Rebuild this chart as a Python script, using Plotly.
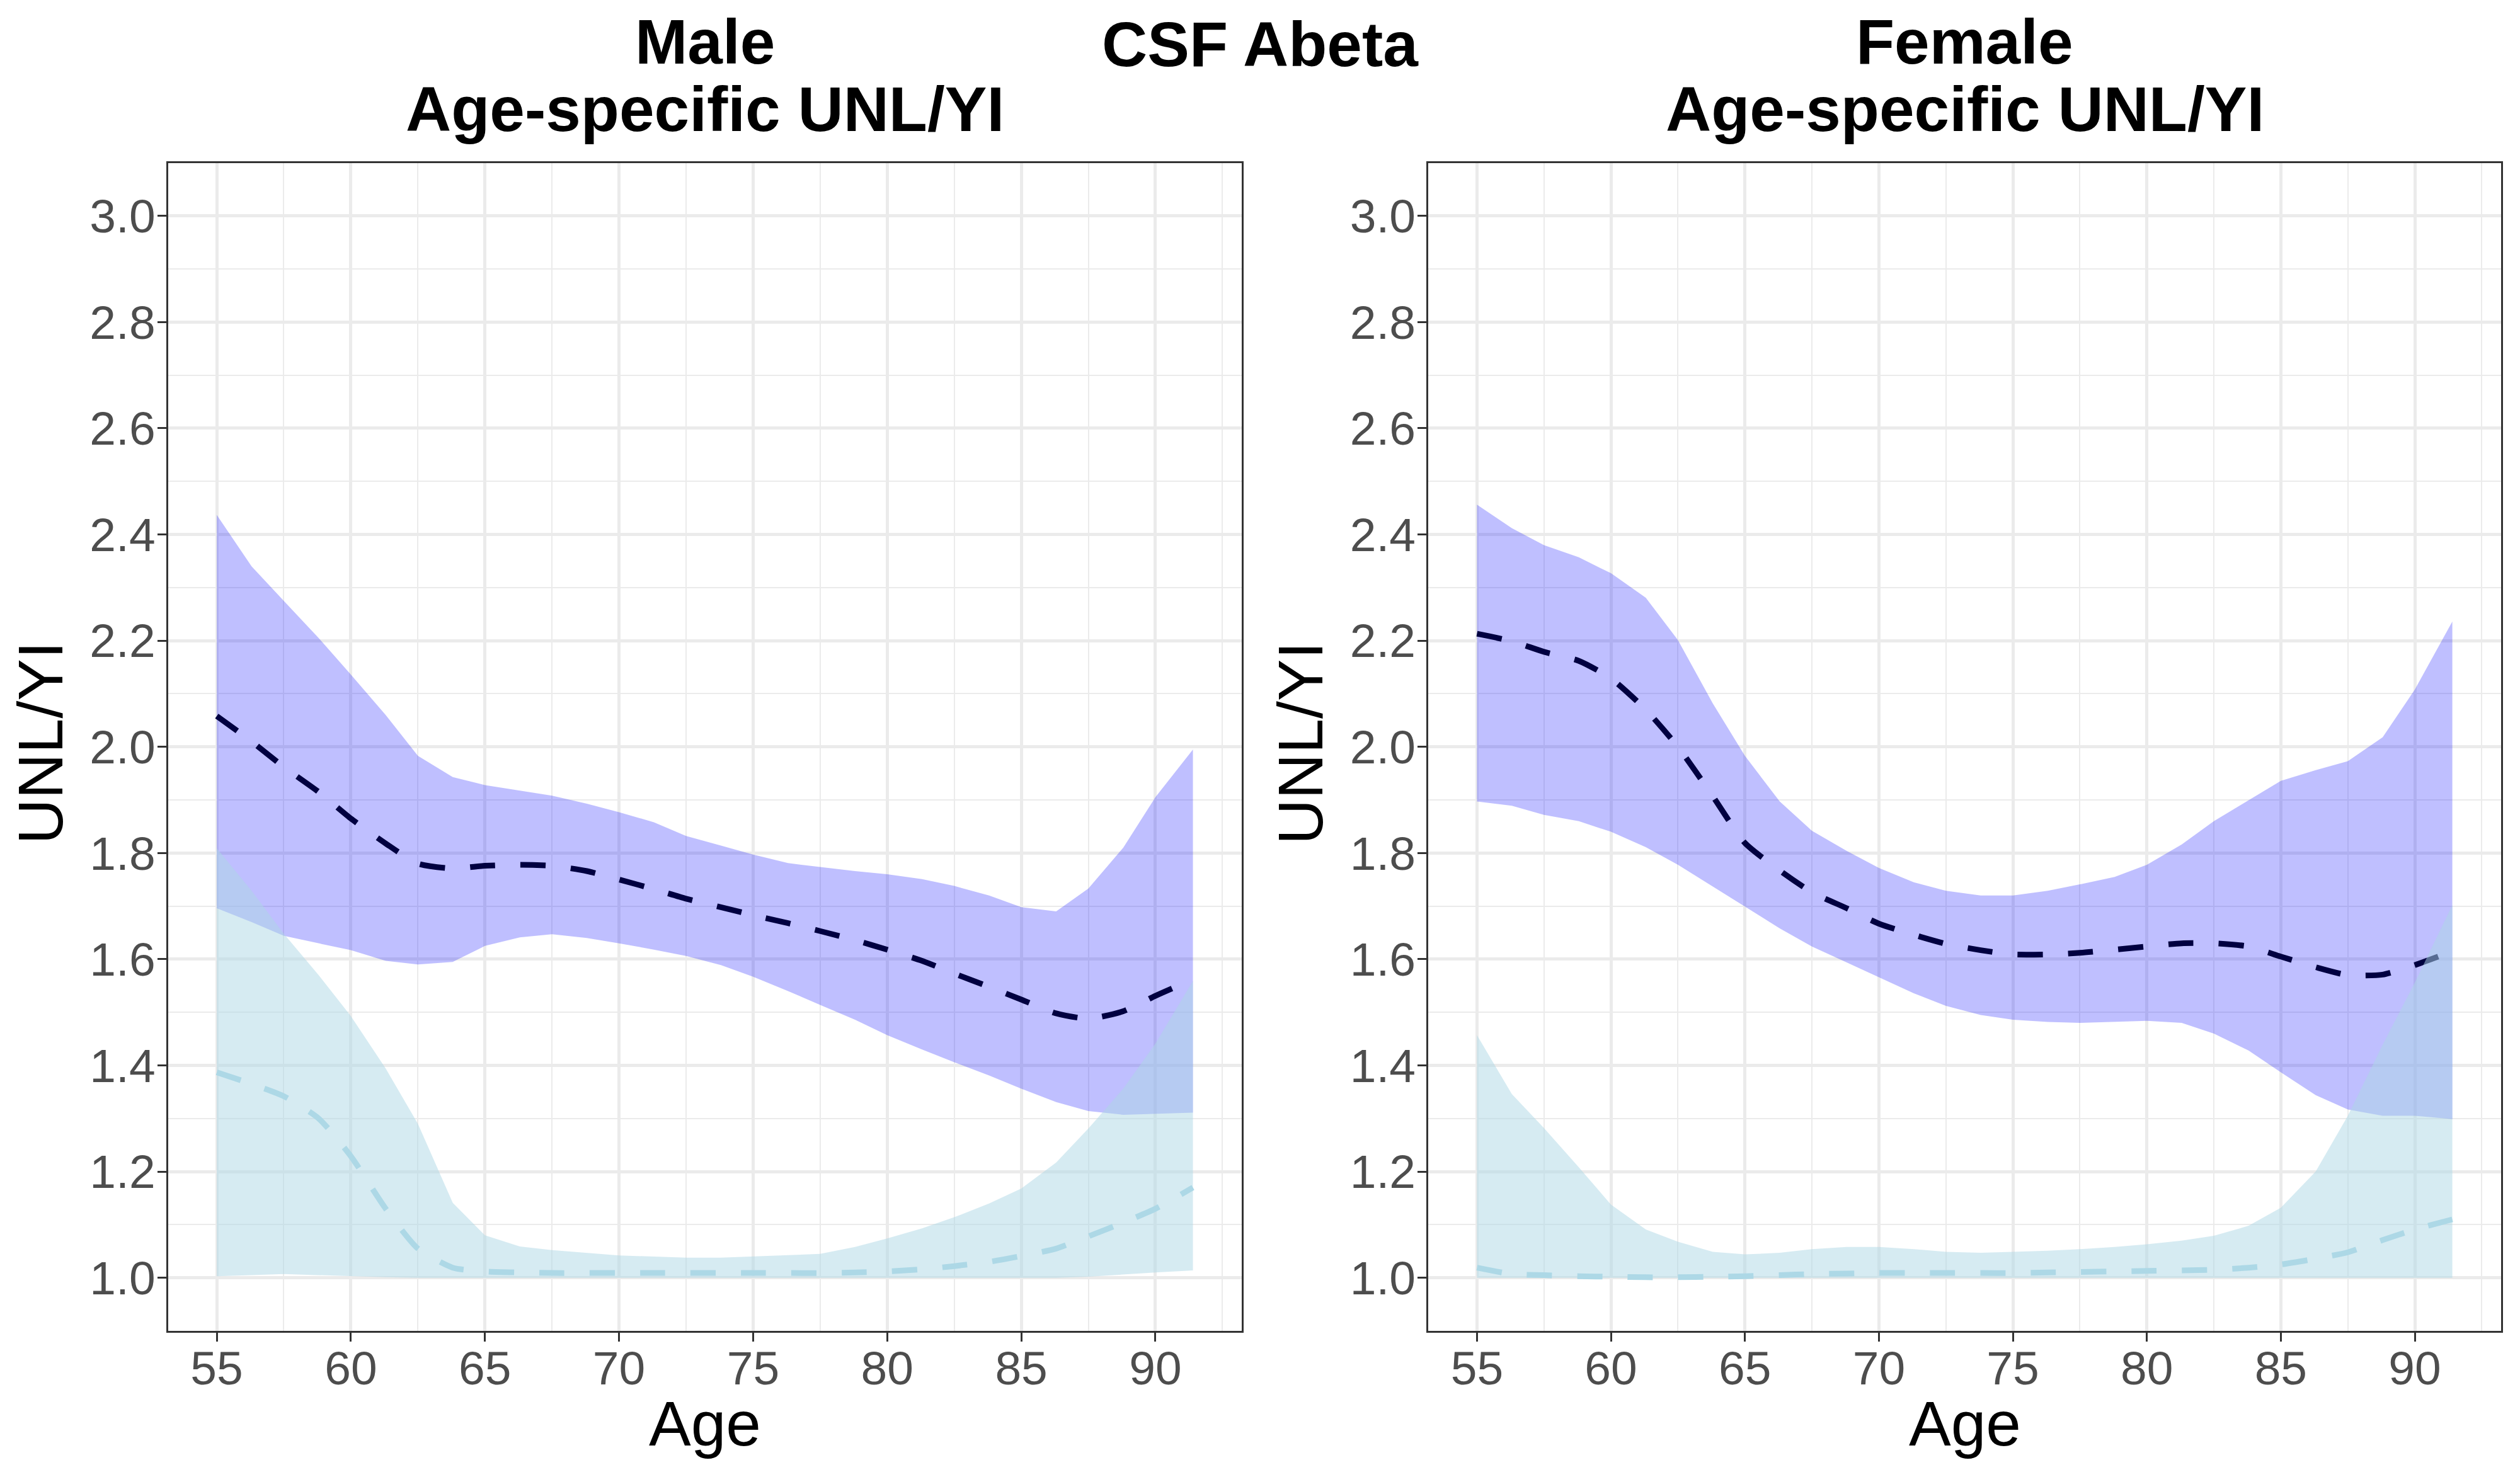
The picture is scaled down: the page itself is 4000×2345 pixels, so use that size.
import plotly.graph_objects as go

ages = [55, 56.3, 57.5, 58.8, 60, 61.3, 62.5, 63.8, 65, 66.3, 67.5, 68.8, 70, 71.3, 72.5,
        73.8, 75, 76.3, 77.5, 78.8, 80, 81.3, 82.5, 83.8, 85, 86.3, 87.5, 88.8, 90, 91.4]

# Male
male_blue_upper = [2.437, 2.34, 2.275, 2.205, 2.136, 2.06, 1.983, 1.943, 1.928, 1.918, 1.908, 1.893,
                   1.877, 1.858, 1.832, 1.814, 1.797, 1.781, 1.774, 1.766, 1.76, 1.751, 1.738, 1.72,
                   1.698, 1.69, 1.733, 1.81, 1.905, 1.995]
male_blue_lower = [1.696, 1.67, 1.644, 1.63, 1.617, 1.597, 1.59, 1.595, 1.625, 1.641, 1.647, 1.64,
                   1.63, 1.618, 1.606, 1.589, 1.567, 1.54, 1.514, 1.486, 1.457, 1.43, 1.406, 1.381,
                   1.356, 1.331, 1.314, 1.307, 1.309, 1.311]
male_dark_mean = [2.058, 2.01, 1.962, 1.915, 1.865, 1.818, 1.78, 1.771, 1.776, 1.778, 1.776, 1.766,
                  1.75, 1.732, 1.714, 1.698, 1.683, 1.668, 1.653, 1.636, 1.618, 1.597, 1.573, 1.548,
                  1.524, 1.498, 1.488, 1.502, 1.531, 1.562]
male_light_upper = [1.809, 1.729, 1.648, 1.57, 1.493, 1.394, 1.29, 1.141, 1.08, 1.059, 1.052, 1.047,
                    1.042, 1.04, 1.038, 1.038, 1.04, 1.043, 1.045, 1.058, 1.074, 1.093, 1.114, 1.14,
                    1.168, 1.217, 1.281, 1.356, 1.441, 1.559]
male_light_lower = [1.003, 1.005, 1.007, 1.005, 1.003, 1.001, 1.0, 1.0, 1.0, 1.0, 1.0, 1.0,
                    1.0, 1.0, 1.0, 1.0, 1.0, 1.0, 1.0, 1.0, 1.0, 1.0, 1.0, 1.0,
                    1.0, 1.0, 1.002, 1.006, 1.01, 1.014]
male_light_mean = [1.387, 1.365, 1.342, 1.30, 1.229, 1.13, 1.055, 1.019, 1.012, 1.01, 1.009, 1.009,
                   1.009, 1.009, 1.009, 1.009, 1.009, 1.009, 1.009, 1.01, 1.012, 1.016, 1.022, 1.03,
                   1.041, 1.055, 1.078, 1.104, 1.13, 1.17]

# Female
female_blue_upper = [2.456, 2.412, 2.38, 2.357, 2.327, 2.281, 2.201, 2.082, 1.983, 1.897, 1.842, 1.804,
                     1.772, 1.745, 1.729, 1.72, 1.72, 1.729, 1.741, 1.755, 1.778, 1.816, 1.86, 1.90,
                     1.936, 1.956, 1.973, 2.018, 2.108, 2.236]
female_blue_lower = [1.897, 1.889, 1.872, 1.86, 1.84, 1.811, 1.778, 1.737, 1.699, 1.658, 1.624, 1.594,
                     1.566, 1.536, 1.512, 1.495, 1.486, 1.482, 1.48, 1.482, 1.484, 1.48, 1.46, 1.428,
                     1.387, 1.344, 1.317, 1.305, 1.305, 1.299]
female_dark_mean = [2.213, 2.199, 2.179, 2.162, 2.129, 2.07, 2.0, 1.907, 1.819, 1.767, 1.726, 1.696,
                    1.667, 1.646, 1.629, 1.617, 1.609, 1.609, 1.612, 1.618, 1.624, 1.63, 1.63, 1.624,
                    1.605, 1.585, 1.57, 1.571, 1.589, 1.615]
female_light_upper = [1.457, 1.346, 1.282, 1.208, 1.138, 1.091, 1.068, 1.049, 1.044, 1.047, 1.054, 1.058,
                      1.058, 1.054, 1.049, 1.047, 1.049, 1.051, 1.054, 1.058, 1.063, 1.07, 1.079, 1.098,
                      1.132, 1.20, 1.305, 1.439, 1.556, 1.702]
female_light_lower = [1.0] * 30
female_light_mean = [1.019, 1.007, 1.005, 1.003, 1.002, 1.001, 1.001, 1.002, 1.003, 1.005, 1.007, 1.008,
                     1.009, 1.009, 1.009, 1.009, 1.009, 1.01, 1.011, 1.012, 1.013, 1.014, 1.015, 1.019,
                     1.025, 1.036, 1.048, 1.071, 1.091, 1.11]

x_tickvals = [55, 60, 65, 70, 75, 80, 85, 90]
y_tickvals = [1.0, 1.2, 1.4, 1.6, 1.8, 2.0, 2.2, 2.4, 2.6, 2.8, 3.0]
y_ticktext = ["1.0", "1.2", "1.4", "1.6", "1.8", "2.0", "2.2", "2.4", "2.6", "2.8", "3.0"]

main_title = "CSF Abeta"
panel_titles = ["Male", "Female"]
panel_subtitle = "Age-specific UNL/YI"
x_title = "Age"
y_title = "UNL/YI"

BLUE_FILL = "rgba(0,0,255,0.25)"
LIGHT_FILL = "rgba(173,216,230,0.5)"
DARK_LINE = "#000040"
LIGHT_LINE = "#ADD8E6"
FONT = "Liberation Sans"

fig = go.Figure()

panels = [
    ("x", "y", male_blue_upper, male_blue_lower, male_dark_mean,
     male_light_upper, male_light_lower, male_light_mean),
    ("x2", "y2", female_blue_upper, female_blue_lower, female_dark_mean,
     female_light_upper, female_light_lower, female_light_mean),
]

for xa, ya, bu, bl, dm, lu, ll, lm in panels:
    fig.add_trace(go.Scatter(x=ages + ages[::-1], y=bu + bl[::-1], fill="toself",
                             fillcolor=BLUE_FILL, line=dict(width=0), mode="lines",
                             xaxis=xa, yaxis=ya, hoverinfo="skip", showlegend=False))
    fig.add_trace(go.Scatter(x=ages, y=dm, mode="lines",
                             line=dict(color=DARK_LINE, width=9, dash="40px,40px", shape="spline", smoothing=0.6),
                             xaxis=xa, yaxis=ya, showlegend=False))
    fig.add_trace(go.Scatter(x=ages + ages[::-1], y=lu + ll[::-1], fill="toself",
                             fillcolor=LIGHT_FILL, line=dict(width=0), mode="lines",
                             xaxis=xa, yaxis=ya, hoverinfo="skip", showlegend=False))
    fig.add_trace(go.Scatter(x=ages, y=lm, mode="lines",
                             line=dict(color=LIGHT_LINE, width=9, dash="40px,40px", shape="spline", smoothing=0.6),
                             xaxis=xa, yaxis=ya, showlegend=False))

# page body has an 8px margin; lay out in screen pixels and convert
OFF = 8
W, H = 4000 - 2 * OFF, 2345 - 2 * OFF


def px(X):
    return (X - OFF) / W


def py(Y):
    return 1 - (Y - OFF) / H


ydom = [py(2113), py(258.5)]
xdoms = [[px(266.6), px(1971)], [px(2267), px(3970)]]

axis_common = dict(
    showline=True, mirror=True, linecolor="#333333", linewidth=3,
    ticks="outside", ticklen=14, tickwidth=3, tickcolor="#333333",
    tickfont=dict(family=FONT, size=75, color="#4D4D4D"),
    showgrid=True, gridcolor="#EBEBEB", gridwidth=4.5, zeroline=False,
)

xaxis = dict(axis_common, range=[53.18, 93.22], tickvals=x_tickvals, ticklabelstandoff=-22,
             minor=dict(tick0=55, dtick=2.5, showgrid=True, gridcolor="#EBEBEB", gridwidth=2.3, ticks=""))
yaxis = dict(axis_common, range=[0.9, 3.1], tickvals=y_tickvals, ticktext=y_ticktext, ticklabelstandoff=-12,
             minor=dict(tick0=1.1, dtick=0.2, showgrid=True, gridcolor="#EBEBEB", gridwidth=2.3, ticks=""))

fig.update_layout(
    width=W, height=H, margin=dict(l=0, r=0, t=0, b=0, pad=0),
    paper_bgcolor="white", plot_bgcolor="white", showlegend=False,
    xaxis=dict(xaxis, domain=xdoms[0], anchor="y"),
    yaxis=dict(yaxis, domain=ydom, anchor="x"),
    xaxis2=dict(xaxis, domain=xdoms[1], anchor="y2"),
    yaxis2=dict(yaxis, domain=ydom, anchor="x2"),
)

ann = []
ann.append(dict(text=main_title, x=px(2000), y=py(70), xref="paper", yref="paper",
                xanchor="center", yanchor="middle", showarrow=False,
                font=dict(family=FONT, size=100, color="black", weight="bold")))
for i, t in enumerate(panel_titles):
    cx = (xdoms[i][0] + xdoms[i][1]) / 2
    ann.append(dict(text=t, x=cx, y=py(66), xref="paper", yref="paper",
                    xanchor="center", yanchor="middle", showarrow=False,
                    font=dict(family=FONT, size=100, color="black", weight="bold")))
    ann.append(dict(text=panel_subtitle, x=cx, y=py(173), xref="paper", yref="paper",
                    xanchor="center", yanchor="middle", showarrow=False,
                    font=dict(family=FONT, size=100, color="black", weight="bold")))
    ann.append(dict(text=x_title, x=cx, y=py(2260), xref="paper", yref="paper",
                    xanchor="center", yanchor="middle", showarrow=False,
                    font=dict(family=FONT, size=100, color="black")))
    yx = px([266.6, 2267][i] - 203)
    ann.append(dict(text=y_title, x=yx, y=py(1180), xref="paper", yref="paper",
                    xanchor="center", yanchor="middle", showarrow=False, textangle=-90,
                    font=dict(family=FONT, size=100, color="black")))
fig.update_layout(annotations=ann)

fig.write_html("out.html")
